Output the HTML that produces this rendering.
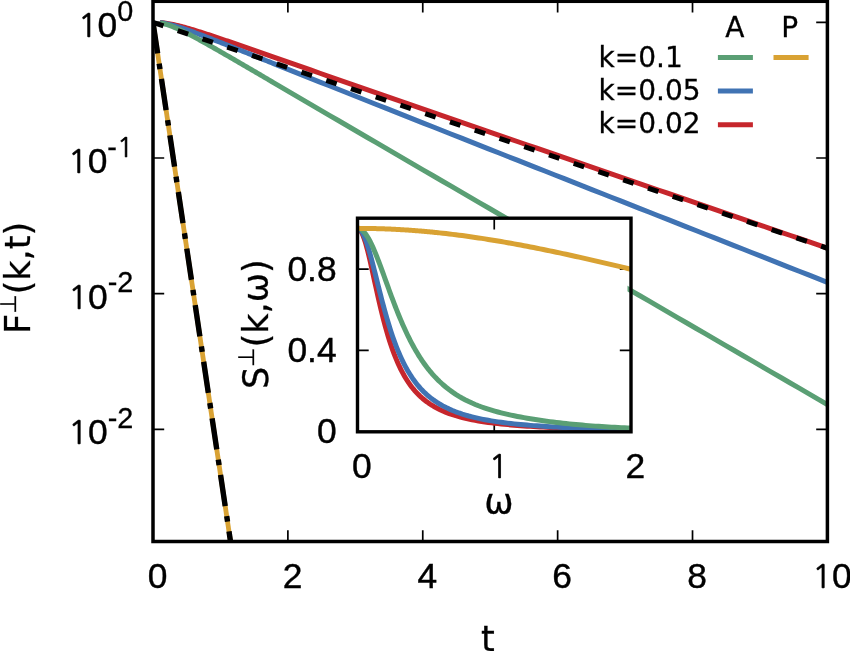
<!DOCTYPE html>
<html><head><meta charset="utf-8"><title>F(k,t)</title>
<style>html,body{margin:0;padding:0;background:#fff}svg{display:block}</style></head>
<body>
<svg width="850" height="651" viewBox="0 0 850 651">
<rect width="850" height="651" fill="#fff"/>
<defs><clipPath id="mc"><rect x="153.0" y="1.3" width="674.4" height="540.2"/></clipPath>
<clipPath id="ic"><rect x="357.5" y="218.2" width="273.5" height="213.60000000000002"/></clipPath></defs>
<path d="M287.88,541.5 v-11.2 M287.88,1.3 v11.2 M422.76,541.5 v-11.2 M422.76,1.3 v11.2 M557.64,541.5 v-11.2 M557.64,1.3 v11.2 M692.52,541.5 v-11.2 M692.52,1.3 v11.2 M153.0,22.30 h11.2 M827.4,22.30 h-11.2 M153.0,158.00 h11.2 M827.4,158.00 h-11.2 M153.0,293.70 h11.2 M827.4,293.70 h-11.2 M153.0,429.40 h11.2 M827.4,429.40 h-11.2" stroke="#000" stroke-width="1.7" fill="none"/>
<g fill="none" stroke-width="5" stroke-linejoin="round" clip-path="url(#mc)">
<path d="M160.00,22.47 L161.43,22.60 L162.86,22.75 L164.29,22.94 L165.72,23.14 L167.15,23.37 L168.58,23.61 L170.01,23.88 L171.44,24.16 L172.87,24.46 L174.30,24.77 L175.73,25.09 L177.16,25.43 L178.59,25.78 L180.03,26.14 L181.46,26.51 L182.89,26.89 L184.32,27.28 L185.75,27.68 L187.18,28.08 L188.61,28.49 L190.04,28.91 L191.47,29.33 L192.90,29.76 L194.33,30.19 L195.76,30.63 L197.19,31.07 L198.62,31.52 L200.05,31.97 L201.48,32.42 L202.91,32.88 L204.34,33.34 L205.77,33.80 L207.20,34.27 L208.63,34.74 L210.06,35.21 L211.49,35.68 L212.92,36.16 L214.35,36.63 L215.78,37.11 L217.22,37.59 L218.65,38.07 L220.08,38.55 L221.51,39.04 L222.94,39.52 L224.37,40.01 L225.80,40.50 L227.23,40.99 L228.66,41.47 L230.09,41.96 L231.52,42.45 L232.95,42.95 L234.38,43.44 L235.81,43.93 L237.24,44.42 L238.67,44.92 L240.10,45.41 L241.53,45.91 L242.96,46.40 L244.39,46.90 L245.82,47.39 L247.25,47.89 L248.68,48.39 L250.11,48.88 L251.54,49.38 L252.97,49.88 L254.41,50.38 L255.84,50.87 L257.27,51.37 L258.70,51.87 L260.13,52.37 L261.56,52.87 L262.99,53.37 L264.42,53.87 L265.85,54.36 L267.28,54.86 L268.71,55.36 L270.14,55.86 L271.57,56.36 L273.00,56.86 L282.40,60.14 L291.79,63.42 L301.19,66.70 L310.59,69.98 L319.98,73.25 L329.38,76.52 L338.78,79.79 L348.17,83.06 L357.57,86.32 L366.97,89.58 L376.36,92.84 L385.76,96.10 L395.16,99.35 L404.55,102.60 L413.95,105.85 L423.35,109.10 L432.74,112.34 L442.14,115.59 L451.54,118.83 L460.93,122.07 L470.33,125.31 L479.73,128.55 L489.12,131.79 L498.52,135.03 L507.92,138.26 L517.31,141.50 L526.71,144.74 L536.11,147.97 L545.50,151.21 L554.90,154.44 L564.29,157.67 L573.69,160.91 L583.09,164.14 L592.48,167.37 L601.88,170.61 L611.28,173.84 L620.67,177.07 L630.07,180.31 L639.47,183.54 L648.86,186.77 L658.26,190.00 L667.66,193.23 L677.05,196.47 L686.45,199.70 L695.85,202.93 L705.24,206.16 L714.64,209.39 L724.04,212.63 L733.43,215.86 L742.83,219.09 L752.23,222.32 L761.62,225.55 L771.02,228.78 L780.42,232.02 L789.81,235.25 L799.21,238.48 L808.61,241.71 L818.00,244.94 L827.40,248.17" stroke="#c6262c"/>
<path d="M160.00,22.63 L161.43,22.82 L162.86,23.04 L164.29,23.30 L165.72,23.58 L167.15,23.89 L168.58,24.22 L170.01,24.57 L171.44,24.94 L172.87,25.33 L174.30,25.74 L175.73,26.16 L177.16,26.59 L178.59,27.03 L180.03,27.48 L181.46,27.95 L182.89,28.42 L184.32,28.90 L185.75,29.39 L187.18,29.88 L188.61,30.39 L190.04,30.89 L191.47,31.41 L192.90,31.92 L194.33,32.44 L195.76,32.97 L197.19,33.50 L198.62,34.03 L200.05,34.57 L201.48,35.11 L202.91,35.65 L204.34,36.19 L205.77,36.74 L207.20,37.28 L208.63,37.83 L210.06,38.39 L211.49,38.94 L212.92,39.49 L214.35,40.05 L215.78,40.61 L217.22,41.16 L218.65,41.72 L220.08,42.28 L221.51,42.84 L222.94,43.41 L224.37,43.97 L225.80,44.53 L227.23,45.10 L228.66,45.66 L230.09,46.23 L231.52,46.79 L232.95,47.36 L234.38,47.93 L235.81,48.49 L237.24,49.06 L238.67,49.63 L240.10,50.20 L241.53,50.76 L242.96,51.33 L244.39,51.90 L245.82,52.47 L247.25,53.04 L248.68,53.61 L250.11,54.18 L251.54,54.75 L252.97,55.32 L254.41,55.89 L255.84,56.46 L257.27,57.03 L258.70,57.60 L260.13,58.17 L261.56,58.74 L262.99,59.32 L264.42,59.89 L265.85,60.46 L267.28,61.03 L268.71,61.60 L270.14,62.17 L271.57,62.74 L273.00,63.31 L282.40,67.07 L291.79,70.82 L301.19,74.57 L310.59,78.32 L319.98,82.06 L329.38,85.80 L338.78,89.54 L348.17,93.28 L357.57,97.01 L366.97,100.74 L376.36,104.47 L385.76,108.19 L395.16,111.92 L404.55,115.64 L413.95,119.36 L423.35,123.07 L432.74,126.79 L442.14,130.50 L451.54,134.22 L460.93,137.93 L470.33,141.64 L479.73,145.35 L489.12,149.05 L498.52,152.76 L507.92,156.47 L517.31,160.17 L526.71,163.88 L536.11,167.59 L545.50,171.29 L554.90,174.99 L564.29,178.70 L573.69,182.40 L583.09,186.10 L592.48,189.81 L601.88,193.51 L611.28,197.21 L620.67,200.92 L630.07,204.62 L639.47,208.32 L648.86,212.02 L658.26,215.72 L667.66,219.43 L677.05,223.13 L686.45,226.83 L695.85,230.53 L705.24,234.23 L714.64,237.93 L724.04,241.64 L733.43,245.34 L742.83,249.04 L752.23,252.74 L761.62,256.44 L771.02,260.14 L780.42,263.85 L789.81,267.55 L799.21,271.25 L808.61,274.95 L818.00,278.65 L827.40,282.35" stroke="#4073b3"/>
<path d="M160.00,22.84 L161.43,23.13 L162.86,23.45 L164.29,23.83 L165.72,24.24 L167.15,24.68 L168.58,25.16 L170.01,25.67 L171.44,26.21 L172.87,26.77 L174.30,27.35 L175.73,27.96 L177.16,28.58 L178.59,29.23 L180.03,29.88 L181.46,30.56 L182.89,31.24 L184.32,31.94 L185.75,32.65 L187.18,33.37 L188.61,34.10 L190.04,34.84 L191.47,35.59 L192.90,36.34 L194.33,37.10 L195.76,37.87 L197.19,38.64 L198.62,39.42 L200.05,40.20 L201.48,40.99 L202.91,41.78 L204.34,42.58 L205.77,43.37 L207.20,44.17 L208.63,44.98 L210.06,45.79 L211.49,46.59 L212.92,47.41 L214.35,48.22 L215.78,49.04 L217.22,49.85 L218.65,50.67 L220.08,51.49 L221.51,52.31 L222.94,53.14 L224.37,53.96 L225.80,54.79 L227.23,55.61 L228.66,56.44 L230.09,57.27 L231.52,58.10 L232.95,58.93 L234.38,59.76 L235.81,60.59 L237.24,61.42 L238.67,62.25 L240.10,63.09 L241.53,63.92 L242.96,64.75 L244.39,65.59 L245.82,66.42 L247.25,67.26 L248.68,68.09 L250.11,68.93 L251.54,69.76 L252.97,70.60 L254.41,71.43 L255.84,72.27 L257.27,73.10 L258.70,73.94 L260.13,74.78 L261.56,75.61 L262.99,76.45 L264.42,77.29 L265.85,78.12 L267.28,78.96 L268.71,79.80 L270.14,80.64 L271.57,81.47 L273.00,82.31 L282.40,87.81 L291.79,93.31 L301.19,98.81 L310.59,104.30 L319.98,109.80 L329.38,115.29 L338.78,120.78 L348.17,126.26 L357.57,131.74 L366.97,137.22 L376.36,142.70 L385.76,148.17 L395.16,153.64 L404.55,159.11 L413.95,164.58 L423.35,170.05 L432.74,175.51 L442.14,180.97 L451.54,186.43 L460.93,191.89 L470.33,197.35 L479.73,202.81 L489.12,208.27 L498.52,213.72 L507.92,219.18 L517.31,224.63 L526.71,230.09 L536.11,235.54 L545.50,241.00 L554.90,246.45 L564.29,251.90 L573.69,257.35 L583.09,262.81 L592.48,268.26 L601.88,273.71 L611.28,279.16 L620.67,284.61 L630.07,290.06 L639.47,295.51 L648.86,300.96 L658.26,306.41 L667.66,311.87 L677.05,317.32 L686.45,322.77 L695.85,328.22 L705.24,333.67 L714.64,339.12 L724.04,344.57 L733.43,350.02 L742.83,355.47 L752.23,360.92 L761.62,366.37 L771.02,371.82 L780.42,377.27 L789.81,382.72 L799.21,388.17 L808.61,393.62 L818.00,399.07 L827.40,404.52" stroke="#5a9f74"/>
<path d="M153.0,22.3 L230.5,541.5" stroke="#d9a233" stroke-width="4.8"/>
<path d="M153.0,22.3 L230.5,541.5" stroke="#000" stroke-width="5.4" stroke-dasharray="31.5 10.2 5.6 9.9"/>
<path d="M153.0,22.3 L827.4,248.29" stroke="#000" stroke-dasharray="11 15.1"/>
</g>
<g fill="none" stroke-width="5">
<path d="M717.9,57.5 H752.9" stroke="#5a9f74"/>
<path d="M717.9,91.1 H752.9" stroke="#4073b3"/>
<path d="M717.9,124.8 H752.9" stroke="#c6262c"/>
<path d="M773.5,57.5 H808.6" stroke="#d9a233"/>
</g>
<rect x="153.0" y="1.3" width="674.4" height="540.2" fill="none" stroke="#000" stroke-width="3.5"/>
<rect x="357.5" y="218.2" width="270.0" height="213.60000000000002" fill="#fff"/>
<path d="M494.25,431.8 v-11.2 M494.25,218.2 v11.2 M357.5,350.43 h11.2 M631.0,350.43 h-11.2 M357.5,269.06 h11.2 M631.0,269.06 h-11.2" stroke="#000" stroke-width="1.7" fill="none"/>
<g fill="none" stroke-width="5" stroke-linejoin="round" clip-path="url(#ic)">
<path d="M357.50,228.37 L358.42,228.58 L359.34,229.20 L360.27,230.22 L361.19,231.64 L362.11,233.43 L363.03,235.58 L363.95,238.06 L364.88,240.84 L365.80,243.90 L366.72,247.21 L367.64,250.73 L368.56,254.43 L369.48,258.29 L370.41,262.27 L371.33,266.35 L372.25,270.50 L373.17,274.70 L374.09,278.92 L375.02,283.14 L375.94,287.34 L376.86,291.51 L377.78,295.63 L378.70,299.69 L379.63,303.68 L380.55,307.59 L381.47,311.42 L382.39,315.15 L383.31,318.79 L384.24,322.33 L385.16,325.77 L386.08,329.10 L387.00,332.33 L387.92,335.46 L388.84,338.48 L389.77,341.40 L390.69,344.23 L391.61,346.95 L392.53,349.58 L393.45,352.11 L394.38,354.55 L395.30,356.91 L396.22,359.17 L397.14,361.36 L398.06,363.46 L398.99,365.49 L399.91,367.44 L400.83,369.32 L401.75,371.13 L402.67,372.87 L403.60,374.55 L404.52,376.16 L405.44,377.72 L406.36,379.22 L407.28,380.67 L408.21,382.06 L409.13,383.41 L410.05,384.70 L410.97,385.95 L411.89,387.15 L412.81,388.32 L413.74,389.44 L414.66,390.52 L415.58,391.56 L416.50,392.57 L417.42,393.55 L418.35,394.49 L419.27,395.40 L420.19,396.28 L421.11,397.12 L422.03,397.95 L422.96,398.74 L423.88,399.51 L424.80,400.25 L425.72,400.97 L426.64,401.67 L427.57,402.35 L428.49,403.00 L429.41,403.63 L430.33,404.25 L431.25,404.84 L432.17,405.42 L433.10,405.98 L434.02,406.52 L434.94,407.05 L435.86,407.56 L436.78,408.06 L437.71,408.54 L438.63,409.01 L439.55,409.46 L442.79,410.96 L446.04,412.32 L449.28,413.56 L452.53,414.69 L455.77,415.71 L459.02,416.65 L462.26,417.52 L465.51,418.31 L468.75,419.04 L472.00,419.72 L475.24,420.34 L478.49,420.92 L481.73,421.45 L484.98,421.95 L488.22,422.42 L491.47,422.85 L494.71,423.25 L497.96,423.63 L501.20,423.98 L504.45,424.32 L507.69,424.63 L510.94,424.92 L514.18,425.20 L517.43,425.46 L520.67,425.70 L523.92,425.93 L527.16,426.15 L530.41,426.36 L533.65,426.56 L536.90,426.74 L540.14,426.92 L543.39,427.09 L546.63,427.24 L549.88,427.40 L553.12,427.54 L556.37,427.68 L559.61,427.81 L562.86,427.93 L566.10,428.05 L569.35,428.17 L572.59,428.28 L575.84,428.38 L579.08,428.48 L582.33,428.58 L585.57,428.67 L588.82,428.76 L592.06,428.84 L595.31,428.92 L598.55,429.00 L601.80,429.07 L605.04,429.15 L608.29,429.22 L611.53,429.28 L614.78,429.35 L618.02,429.41 L621.27,429.47 L624.51,429.53 L627.76,429.58 L631.00,429.63" stroke="#c6262c"/>
<path d="M357.50,228.37 L358.42,228.53 L359.34,229.00 L360.27,229.78 L361.19,230.87 L362.11,232.25 L363.03,233.91 L363.95,235.83 L364.88,238.01 L365.80,240.42 L366.72,243.04 L367.64,245.86 L368.56,248.85 L369.48,251.99 L370.41,255.27 L371.33,258.66 L372.25,262.14 L373.17,265.70 L374.09,269.32 L375.02,272.97 L375.94,276.65 L376.86,280.34 L377.78,284.03 L378.70,287.70 L379.63,291.35 L380.55,294.96 L381.47,298.53 L382.39,302.05 L383.31,305.51 L384.24,308.90 L385.16,312.23 L386.08,315.49 L387.00,318.68 L387.92,321.79 L388.84,324.83 L389.77,327.78 L390.69,330.66 L391.61,333.46 L392.53,336.18 L393.45,338.82 L394.38,341.38 L395.30,343.87 L396.22,346.28 L397.14,348.62 L398.06,350.89 L398.99,353.08 L399.91,355.21 L400.83,357.26 L401.75,359.26 L402.67,361.18 L403.60,363.05 L404.52,364.86 L405.44,366.60 L406.36,368.30 L407.28,369.93 L408.21,371.52 L409.13,373.05 L410.05,374.53 L410.97,375.97 L411.89,377.36 L412.81,378.71 L413.74,380.01 L414.66,381.27 L415.58,382.49 L416.50,383.67 L417.42,384.82 L418.35,385.93 L419.27,387.00 L420.19,388.05 L421.11,389.06 L422.03,390.04 L422.96,390.99 L423.88,391.91 L424.80,392.80 L425.72,393.66 L426.64,394.50 L427.57,395.32 L428.49,396.11 L429.41,396.88 L430.33,397.62 L431.25,398.35 L432.17,399.05 L433.10,399.74 L434.02,400.40 L434.94,401.05 L435.86,401.67 L436.78,402.28 L437.71,402.88 L438.63,403.45 L439.55,404.01 L442.79,405.87 L446.04,407.56 L449.28,409.10 L452.53,410.51 L455.77,411.80 L459.02,412.99 L462.26,414.08 L465.51,415.08 L468.75,416.01 L472.00,416.86 L475.24,417.66 L478.49,418.39 L481.73,419.08 L484.98,419.71 L488.22,420.31 L491.47,420.86 L494.71,421.38 L497.96,421.86 L501.20,422.32 L504.45,422.74 L507.69,423.14 L510.94,423.52 L514.18,423.87 L517.43,424.21 L520.67,424.52 L523.92,424.82 L527.16,425.10 L530.41,425.37 L533.65,425.62 L536.90,425.86 L540.14,426.09 L543.39,426.30 L546.63,426.51 L549.88,426.70 L553.12,426.89 L556.37,427.06 L559.61,427.23 L562.86,427.39 L566.10,427.54 L569.35,427.69 L572.59,427.83 L575.84,427.96 L579.08,428.09 L582.33,428.21 L585.57,428.33 L588.82,428.44 L592.06,428.55 L595.31,428.65 L598.55,428.75 L601.80,428.84 L605.04,428.93 L608.29,429.02 L611.53,429.10 L614.78,429.18 L618.02,429.26 L621.27,429.34 L624.51,429.41 L627.76,429.48 L631.00,429.54" stroke="#4073b3"/>
<path d="M357.50,228.36 L358.42,228.44 L359.34,228.66 L360.27,229.03 L361.19,229.55 L362.11,230.21 L363.03,231.01 L363.95,231.95 L364.88,233.03 L365.80,234.23 L366.72,235.56 L367.64,237.01 L368.56,238.57 L369.48,240.24 L370.41,242.01 L371.33,243.88 L372.25,245.84 L373.17,247.88 L374.09,250.00 L375.02,252.18 L375.94,254.43 L376.86,256.74 L377.78,259.10 L378.70,261.50 L379.63,263.94 L380.55,266.41 L381.47,268.91 L382.39,271.43 L383.31,273.96 L384.24,276.51 L385.16,279.06 L386.08,281.61 L387.00,284.16 L387.92,286.71 L388.84,289.25 L389.77,291.77 L390.69,294.28 L391.61,296.76 L392.53,299.23 L393.45,301.67 L394.38,304.09 L395.30,306.48 L396.22,308.84 L397.14,311.17 L398.06,313.46 L398.99,315.73 L399.91,317.95 L400.83,320.15 L401.75,322.30 L402.67,324.43 L403.60,326.51 L404.52,328.56 L405.44,330.57 L406.36,332.54 L407.28,334.47 L408.21,336.37 L409.13,338.23 L410.05,340.05 L410.97,341.84 L411.89,343.59 L412.81,345.30 L413.74,346.98 L414.66,348.62 L415.58,350.22 L416.50,351.80 L417.42,353.33 L418.35,354.84 L419.27,356.31 L420.19,357.75 L421.11,359.16 L422.03,360.53 L422.96,361.88 L423.88,363.19 L424.80,364.48 L425.72,365.73 L426.64,366.96 L427.57,368.16 L428.49,369.34 L429.41,370.48 L430.33,371.61 L431.25,372.70 L432.17,373.77 L433.10,374.82 L434.02,375.84 L434.94,376.84 L435.86,377.82 L436.78,378.77 L437.71,379.71 L438.63,380.62 L439.55,381.51 L442.79,384.49 L446.04,387.25 L449.28,389.80 L452.53,392.15 L455.77,394.33 L459.02,396.34 L462.26,398.22 L465.51,399.95 L468.75,401.56 L472.00,403.06 L475.24,404.46 L478.49,405.77 L481.73,406.98 L484.98,408.12 L488.22,409.19 L491.47,410.19 L494.71,411.13 L497.96,412.02 L501.20,412.86 L504.45,413.65 L507.69,414.41 L510.94,415.12 L514.18,415.80 L517.43,416.45 L520.67,417.07 L523.92,417.66 L527.16,418.23 L530.41,418.77 L533.65,419.29 L536.90,419.79 L540.14,420.28 L543.39,420.74 L546.63,421.19 L549.88,421.62 L553.12,422.03 L556.37,422.43 L559.61,422.81 L562.86,423.18 L566.10,423.54 L569.35,423.88 L572.59,424.20 L575.84,424.51 L579.08,424.81 L582.33,425.10 L585.57,425.37 L588.82,425.63 L592.06,425.88 L595.31,426.12 L598.55,426.34 L601.80,426.56 L605.04,426.76 L608.29,426.96 L611.53,427.14 L614.78,427.32 L618.02,427.49 L621.27,427.65 L624.51,427.80 L627.76,427.94 L631.00,428.08" stroke="#5a9f74"/>
<path d="M357.50,228.37 L358.42,228.37 L359.34,228.37 L360.27,228.38 L361.19,228.38 L362.11,228.39 L363.03,228.39 L363.95,228.40 L364.88,228.41 L365.80,228.42 L366.72,228.43 L367.64,228.44 L368.56,228.46 L369.48,228.47 L370.41,228.49 L371.33,228.50 L372.25,228.52 L373.17,228.54 L374.09,228.56 L375.02,228.58 L375.94,228.60 L376.86,228.63 L377.78,228.65 L378.70,228.68 L379.63,228.71 L380.55,228.73 L381.47,228.76 L382.39,228.79 L383.31,228.83 L384.24,228.86 L385.16,228.89 L386.08,228.93 L387.00,228.96 L387.92,229.00 L388.84,229.04 L389.77,229.08 L390.69,229.12 L391.61,229.16 L392.53,229.21 L393.45,229.25 L394.38,229.30 L395.30,229.34 L396.22,229.39 L397.14,229.44 L398.06,229.49 L398.99,229.54 L399.91,229.59 L400.83,229.65 L401.75,229.70 L402.67,229.76 L403.60,229.81 L404.52,229.87 L405.44,229.93 L406.36,229.99 L407.28,230.05 L408.21,230.11 L409.13,230.18 L410.05,230.24 L410.97,230.31 L411.89,230.37 L412.81,230.44 L413.74,230.51 L414.66,230.58 L415.58,230.65 L416.50,230.72 L417.42,230.80 L418.35,230.87 L419.27,230.95 L420.19,231.02 L421.11,231.10 L422.03,231.18 L422.96,231.26 L423.88,231.34 L424.80,231.42 L425.72,231.50 L426.64,231.59 L427.57,231.67 L428.49,231.76 L429.41,231.84 L430.33,231.93 L431.25,232.02 L432.17,232.11 L433.10,232.20 L434.02,232.30 L434.94,232.39 L435.86,232.48 L436.78,232.58 L437.71,232.67 L438.63,232.77 L439.55,232.87 L442.79,233.22 L446.04,233.59 L449.28,233.97 L452.53,234.36 L455.77,234.76 L459.02,235.18 L462.26,235.60 L465.51,236.04 L468.75,236.49 L472.00,236.95 L475.24,237.42 L478.49,237.91 L481.73,238.40 L484.98,238.90 L488.22,239.41 L491.47,239.94 L494.71,240.47 L497.96,241.01 L501.20,241.57 L504.45,242.13 L507.69,242.70 L510.94,243.28 L514.18,243.87 L517.43,244.47 L520.67,245.07 L523.92,245.68 L527.16,246.31 L530.41,246.94 L533.65,247.57 L536.90,248.22 L540.14,248.87 L543.39,249.53 L546.63,250.19 L549.88,250.86 L553.12,251.54 L556.37,252.23 L559.61,252.92 L562.86,253.61 L566.10,254.31 L569.35,255.02 L572.59,255.73 L575.84,256.45 L579.08,257.17 L582.33,257.90 L585.57,258.63 L588.82,259.36 L592.06,260.10 L595.31,260.84 L598.55,261.59 L601.80,262.34 L605.04,263.09 L608.29,263.85 L611.53,264.61 L614.78,265.37 L618.02,266.14 L621.27,266.91 L624.51,267.67 L627.76,268.45 L631.00,269.22" stroke="#d9a233"/>
</g>
<rect x="357.5" y="218.2" width="273.5" height="213.60000000000002" fill="none" stroke="#000" stroke-width="3.4"/>
<g fill="#000">
<text x="157.6" y="588.4" text-anchor="middle" font-family="'Liberation Sans', sans-serif" font-size="35.4" stroke="#000" stroke-width="0.4">0</text>
<text x="292.5" y="588.4" text-anchor="middle" font-family="'Liberation Sans', sans-serif" font-size="35.4" stroke="#000" stroke-width="0.4">2</text>
<text x="427.4" y="588.4" text-anchor="middle" font-family="'Liberation Sans', sans-serif" font-size="35.4" stroke="#000" stroke-width="0.4">4</text>
<text x="562.2" y="588.4" text-anchor="middle" font-family="'Liberation Sans', sans-serif" font-size="35.4" stroke="#000" stroke-width="0.4">6</text>
<text x="697.1" y="588.4" text-anchor="middle" font-family="'Liberation Sans', sans-serif" font-size="35.4" stroke="#000" stroke-width="0.4">8</text>
<text x="832.0" y="588.4" text-anchor="middle" font-family="'Liberation Sans', sans-serif" font-size="35.4" stroke="#000" stroke-width="0.4"><tspan font-family="NanumGothic, 'Liberation Sans', sans-serif" font-size="32.4" stroke-width="0.65">1</tspan>0</text>
<text x="133.3" y="37.3" text-anchor="end" font-family="'Liberation Sans', sans-serif" font-size="35.4" stroke="#000" stroke-width="0.4"><tspan font-family="NanumGothic, 'Liberation Sans', sans-serif" font-size="32.4" stroke-width="0.65">1</tspan>0<tspan dy="-16.3" font-size="28.8" stroke-width="0.3">0</tspan></text>
<text x="133.3" y="173.0" text-anchor="end" font-family="'Liberation Sans', sans-serif" font-size="35.4" stroke="#000" stroke-width="0.4"><tspan font-family="NanumGothic, 'Liberation Sans', sans-serif" font-size="32.4" stroke-width="0.65">1</tspan>0<tspan dy="-16.3" font-size="28.8" stroke-width="0.3">-<tspan font-family="NanumGothic, 'Liberation Sans', sans-serif" font-size="27" stroke-width="0.6">1</tspan></tspan></text>
<text x="133.3" y="308.7" text-anchor="end" font-family="'Liberation Sans', sans-serif" font-size="35.4" stroke="#000" stroke-width="0.4"><tspan font-family="NanumGothic, 'Liberation Sans', sans-serif" font-size="32.4" stroke-width="0.65">1</tspan>0<tspan dy="-16.3" font-size="28.8" stroke-width="0.3">-2</tspan></text>
<text x="133.3" y="444.4" text-anchor="end" font-family="'Liberation Sans', sans-serif" font-size="35.4" stroke="#000" stroke-width="0.4"><tspan font-family="NanumGothic, 'Liberation Sans', sans-serif" font-size="32.4" stroke-width="0.65">1</tspan>0<tspan dy="-16.3" font-size="28.8" stroke-width="0.3">-2</tspan></text>
<text x="336.6" y="443.4" text-anchor="end" font-family="'Liberation Sans', sans-serif" font-size="35.4" stroke="#000" stroke-width="0.4">0</text>
<text x="336.6" y="362.0" text-anchor="end" font-family="'Liberation Sans', sans-serif" font-size="35.4" stroke="#000" stroke-width="0.4">0.4</text>
<text x="336.6" y="280.7" text-anchor="end" font-family="'Liberation Sans', sans-serif" font-size="35.4" stroke="#000" stroke-width="0.4">0.8</text>
<text x="361.8" y="478.4" text-anchor="middle" font-family="'Liberation Sans', sans-serif" font-size="35.4" stroke="#000" stroke-width="0.4">0</text>
<text x="498.6" y="478.4" text-anchor="middle" font-family="'Liberation Sans', sans-serif" font-size="35.4" stroke="#000" stroke-width="0.4"><tspan font-family="NanumGothic, 'Liberation Sans', sans-serif" font-size="32.4" stroke-width="0.65">1</tspan></text>
<text x="635.3" y="478.4" text-anchor="middle" font-family="'Liberation Sans', sans-serif" font-size="35.4" stroke="#000" stroke-width="0.4">2</text>
<text x="499" y="513.7" text-anchor="middle" font-family="'DejaVu Sans', 'Liberation Sans', sans-serif" stroke="#000" stroke-width="0.3" font-size="35">ω</text>
<text x="487.9" y="651.2" text-anchor="middle" font-family="'DejaVu Sans', 'Liberation Sans', sans-serif" stroke="#000" stroke-width="0.3" font-size="35">t</text>
<text transform="translate(30,334) rotate(-90)" font-family="'DejaVu Sans', 'Liberation Sans', sans-serif" stroke="#000" stroke-width="0.3" font-size="35">F<tspan dy="-13.6" font-size="22.4">⊥</tspan><tspan dy="13.6">(k,t)</tspan></text>
<text transform="translate(267.5,389.1) rotate(-90)" font-family="'DejaVu Sans', 'Liberation Sans', sans-serif" stroke="#000" stroke-width="0.3" font-size="35">S<tspan dy="-13.5" font-size="22.4">⊥</tspan><tspan dy="13.5">(k,ω)</tspan></text>
<text x="598.6" y="66.7" font-family="'DejaVu Sans', 'Liberation Sans', sans-serif" stroke="#000" stroke-width="0.3" font-size="28">k=0.1</text>
<text x="598.6" y="99.9" font-family="'DejaVu Sans', 'Liberation Sans', sans-serif" stroke="#000" stroke-width="0.3" font-size="28">k=0.05</text>
<text x="598.6" y="133.1" font-family="'DejaVu Sans', 'Liberation Sans', sans-serif" stroke="#000" stroke-width="0.3" font-size="28">k=0.02</text>
<text x="734.8" y="36.8" text-anchor="middle" font-family="'DejaVu Sans', 'Liberation Sans', sans-serif" stroke="#000" stroke-width="0.3" font-size="28">A</text>
<text x="789.6" y="36.8" text-anchor="middle" font-family="'DejaVu Sans', 'Liberation Sans', sans-serif" stroke="#000" stroke-width="0.3" font-size="28">P</text>
</g>
</svg>
</body></html>
